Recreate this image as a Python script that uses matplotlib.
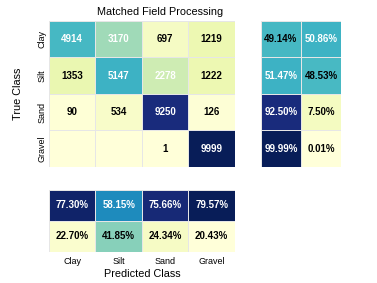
import numpy as np
import matplotlib
matplotlib.use("Agg")
from matplotlib import pyplot as plt

plt.rcParams['font.family'] = ['Liberation Sans', 'DejaVu Sans']

# ------------- Data ---------------

classes = ["Clay", "Silt", "Sand", "Gravel"]
counts = [
	[4914, 3170, 697, 1219],
	[1353, 5147, 2278, 1222],
	[90, 534, 9250, 126],
	[0, 0, 1, 9999],
]
row_pct = [
	[49.14, 50.86],
	[51.47, 48.53],
	[92.50, 7.50],
	[99.99, 0.01],
]
col_pct = [
	[77.30, 58.15, 75.66, 79.57],
	[22.70, 41.85, 24.34, 20.43],
]


# ------------- Display ---------------

def draw_block(ax, values, fmt, white_above):
	values = np.array(values, dtype=float)
	# colour scale taken from each block's own range
	ax.pcolormesh(values, cmap="YlGnBu", vmin=values.min(), vmax=values.max(),
				  edgecolors="#e6e6e6", linewidth=0.6)
	for i in range(values.shape[0]):
		for j in range(values.shape[1]):
			val = values[i, j]
			if val == 0:
				continue
			color = "white" if val > white_above else "black"
			ax.text(j + 0.5, i + 0.5, fmt(val), ha="center", va="center",
					fontsize=7, fontweight="bold", color=color)
	ax.set_xlim(0, values.shape[1])
	ax.set_ylim(values.shape[0], 0)
	ax.set_xticks([])
	ax.set_yticks([])
	for s in ax.spines.values():
		s.set_visible(False)


fig = plt.figure(figsize=(3.77, 2.83), dpi=100)

ax_main = fig.add_axes([0.130, 0.410, 0.493, 0.516])
ax_right = fig.add_axes([0.692, 0.410, 0.213, 0.516])
ax_bottom = fig.add_axes([0.130, 0.110, 0.493, 0.219])

draw_block(ax_main, counts, lambda v: f"{int(v)}", 2000)
draw_block(ax_right, row_pct, lambda v: f"{v:.2f}%", 50)
draw_block(ax_bottom, col_pct, lambda v: f"{v:.2f}%", 50)

ax_main.set_yticks(np.arange(len(classes)) + 0.5)
ax_main.set_yticklabels(classes, rotation=90, va="center", fontsize=6.5)
ax_main.tick_params(axis="y", length=0, pad=2)
ax_main.set_ylabel("True Class", fontsize=7.8, labelpad=10)
ax_main.set_title("Matched Field Processing", fontsize=7.8, pad=4, x=0.597)

ax_bottom.set_xticks(np.arange(len(classes)) + 0.5)
ax_bottom.set_xticklabels(classes, fontsize=6.5)
ax_bottom.tick_params(axis="x", length=0, pad=4)
ax_bottom.set_xlabel("Predicted Class", fontsize=7.8, labelpad=2)

fig.savefig("out.png", dpi=100)
